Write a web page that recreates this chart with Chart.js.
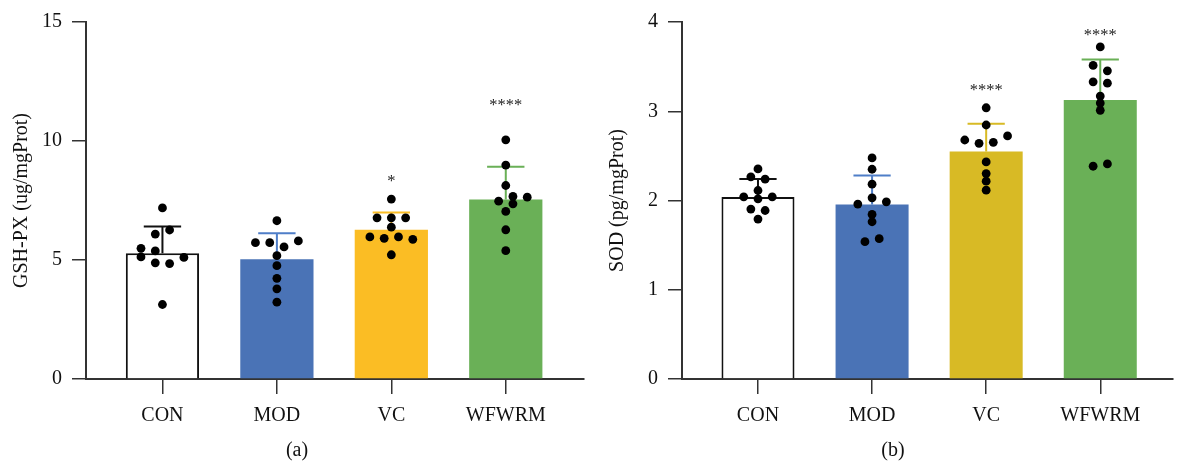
<!DOCTYPE html>
<html>
<head>
<meta charset="utf-8">
<script src="https://cdn.jsdelivr.net/npm/chart.js@4"></script>
<style>
  html, body { margin: 0; padding: 0; background: #ffffff; overflow: hidden; width: 1177px; height: 469px; }
  canvas { position: absolute; top: 0; }
  #c1 { left: 0; }
  #c2 { left: 596px; }
</style>
</head>
<body>
<canvas id="c1" width="588" height="469"></canvas>
<canvas id="c2" width="581" height="469"></canvas>
<script>
// ---------- data ----------
const categories = ['CON', 'MOD', 'VC', 'WFWRM'];

// panel (a) GSH-PX
const gshMean = [5.28, 5.03, 6.27, 7.54];
const gshSD = [1.13, 1.09, 0.73, 1.38];
const gshPoints = [
  [7.19, 6.26, 6.09, 5.49, 5.38, 5.13, 5.11, 4.88, 4.85, 3.13],
  [6.65, 5.73, 5.73, 5.80, 5.55, 5.18, 4.76, 4.23, 3.79, 3.23],
  [7.56, 6.77, 6.77, 6.77, 6.38, 5.97, 5.91, 5.97, 5.87, 5.22],
  [10.05, 8.99, 8.13, 7.67, 7.64, 7.47, 7.36, 7.04, 6.27, 5.39]
];
const gshJitter = [
  [0, 1, -1, -3, -1, -3, 3, -1, 1, 0],
  [0, -3, -1, 3, 1, 0, 0, 0, 0, 0],
  [0, -2, 0, 2, 0, -3, -1, 1, 3, 0],
  [0, 0, 0, 1, 3, -1, 1, 0, 0, 0]
];
const gshSig = ['', '', '*', '****'];
const gshSigLevel = [null, null, 8.35, 11.54];
const gshTicks = [0, 5, 10, 15];

// panel (b) SOD
const sodMean = [2.04, 1.955, 2.55, 3.125];
const sodSD = [0.20, 0.325, 0.31, 0.455];
const sodPoints = [
  [2.354, 2.265, 2.239, 2.112, 2.041, 2.019, 2.041, 1.904, 1.888, 1.792],
  [2.477, 2.35, 2.183, 2.03, 1.96, 1.985, 1.844, 1.762, 1.539, 1.572],
  [3.039, 2.846, 2.678, 2.641, 2.652, 2.723, 2.432, 2.302, 2.217, 2.116],
  [3.721, 3.513, 3.453, 3.330, 3.315, 3.170, 3.092, 3.010, 2.384, 2.410]
];
const sodJitter = [
  [0, -1, 1, 0, -2, 0, 2, -1, 1, 0],
  [0, 0, 0, 0, -2, 2, 0, 0, -1, 1],
  [0, 0, -3, -1, 1, 3, 0, 0, 0, 0],
  [0, -1, 1, -1, 1, 0, 0, 0, -1, 1]
];
const sodSig = ['', '', '****', '****'];
const sodSigLevel = [null, null, 3.245, 3.86];
const sodTicks = [0, 1, 2, 3, 4];

// ---------- styles ----------
const FONT = "'Liberation Serif', 'DejaVu Serif', serif";
const AXIS = '#333333';
const JITTER_STEP = 0.0625;

function buildChart(id, o) {
  const barData = categories.map((c, i) => ({ x: i, y: o.mean[i] }));
  const dots = [];
  o.points.forEach((grp, i) => grp.forEach((v, j) => dots.push({ x: i + o.jitter[i][j] * JITTER_STEP, y: v })));

  const overlay = {
    id: 'overlay_' + id,
    afterDatasetDraw(chart, args) {
      if (args.meta.type !== 'bar') return;
      const ctx = chart.ctx, ys = chart.scales.y;
      args.meta.data.forEach((bar, i) => {
        const x = bar.x, w = bar.width * 0.51;
        const yb = ys.getPixelForValue(o.mean[i]);
        const yt = ys.getPixelForValue(o.mean[i] + o.sd[i]);
        ctx.save();
        ctx.strokeStyle = o.errColors[i];
        ctx.lineWidth = 2;
        ctx.beginPath();
        ctx.moveTo(x, yb); ctx.lineTo(x, yt);
        ctx.moveTo(x - w / 2, yt); ctx.lineTo(x + w / 2, yt);
        ctx.stroke();
        ctx.restore();
      });
    },
    afterDraw(chart) {
      const ctx = chart.ctx, ys = chart.scales.y, xs = chart.scales.x;
      ctx.save();
      ctx.fillStyle = '#222222';
      ctx.textAlign = 'center';
      ctx.textBaseline = 'alphabetic';
      ctx.font = '16.5px ' + FONT;
      o.sig.forEach((s, i) => {
        if (!s) return;
        ctx.fillText(s, xs.getPixelForValue(i), ys.getPixelForValue(o.sigLevel[i]) + 5.5);
      });
      ctx.font = '20px ' + FONT;
      ctx.textBaseline = 'middle';
      ctx.fillStyle = '#111111';
      ctx.fillText(o.panel, 297, 451);
      ctx.restore();
    }
  };

  return new Chart(document.getElementById(id), {
    type: 'bar',
    data: {
      datasets: [
        {
          type: 'bar',
          data: barData,
          backgroundColor: o.colors,
          borderColor: o.borderColors,
          borderWidth: o.borderWidths,
          borderSkipped: 'bottom',
          barPercentage: 0.64,
          categoryPercentage: 1,
          order: 1
        },
        {
          type: 'scatter',
          data: dots,
          backgroundColor: '#000000',
          borderWidth: 0,
          pointRadius: 4.4,
          order: 0
        }
      ]
    },
    options: {
      responsive: false,
      animation: false,
      devicePixelRatio: 1,
      layout: { padding: { top: 21, left: 0, right: o.padRight, bottom: 0 } },
      plugins: { legend: { display: false }, tooltip: { enabled: false }, title: { display: false } },
      scales: {
        x: {
          type: 'linear',
          min: o.xmin, max: o.xmax,
          offset: false,
          afterBuildTicks: s => { s.ticks = categories.map((c, i) => ({ value: i })); },
          afterFit: s => { s.height = 90; },
          ticks: {
            callback: v => categories[v] ?? '',
            font: { family: FONT, size: 20 },
            color: '#111111',
            padding: 10,
            maxRotation: 0,
            autoSkip: false
          },
          grid: { display: true, drawOnChartArea: false, drawTicks: true, tickLength: 15, color: AXIS, lineWidth: 1.5, offset: false },
          border: { display: true, color: AXIS, width: 2 }
        },
        y: {
          min: 0, max: o.ymax,
          afterBuildTicks: s => { s.ticks = o.yticks.map(v => ({ value: v })); },
          afterFit: s => { s.width = 86; },
          ticks: {
            font: { family: FONT, size: 20 },
            color: '#111111',
            padding: 10
          },
          title: {
            display: true,
            text: o.ytitle,
            font: { family: FONT, size: 20 },
            color: '#111111',
            padding: { top: 10, bottom: 0 }
          },
          grid: { display: true, drawOnChartArea: false, drawTicks: true, tickLength: 14, color: AXIS, lineWidth: 1.5 },
          border: { display: true, color: AXIS, width: 2 }
        }
      }
    },
    plugins: [overlay]
  });
}

buildChart('c1', {
  mean: gshMean, sd: gshSD, points: gshPoints, jitter: gshJitter,
  sig: gshSig, sigLevel: gshSigLevel, yticks: gshTicks, ymax: 15,
  ytitle: 'GSH-PX (ug/mgProt)', panel: '(a)',
  colors: ['#FFFFFF', '#4A73B6', '#FBBD24', '#6AB057'],
  borderColors: ['#111111', '#4A73B6', '#FBBD24', '#6AB057'],
  borderWidths: [2, 0, 0, 0],
  errColors: ['#111111', '#4F7EC8', '#FBBD24', '#6AB057'],
  xmin: -0.668, xmax: 3.68, padRight: 1
});

buildChart('c2', {
  mean: sodMean, sd: sodSD, points: sodPoints, jitter: sodJitter,
  sig: sodSig, sigLevel: sodSigLevel, yticks: sodTicks, ymax: 4,
  ytitle: 'SOD (pg/mgProt)', panel: '(b)',
  colors: ['#FFFFFF', '#4A73B6', '#D8BA25', '#6AB057'],
  borderColors: ['#111111', '#4A73B6', '#D8BA25', '#6AB057'],
  borderWidths: [2, 0, 0, 0],
  errColors: ['#111111', '#4F7EC8', '#D8BA25', '#6AB057'],
  xmin: -0.666, xmax: 3.634, padRight: 0
});
</script>
</body>
</html>
